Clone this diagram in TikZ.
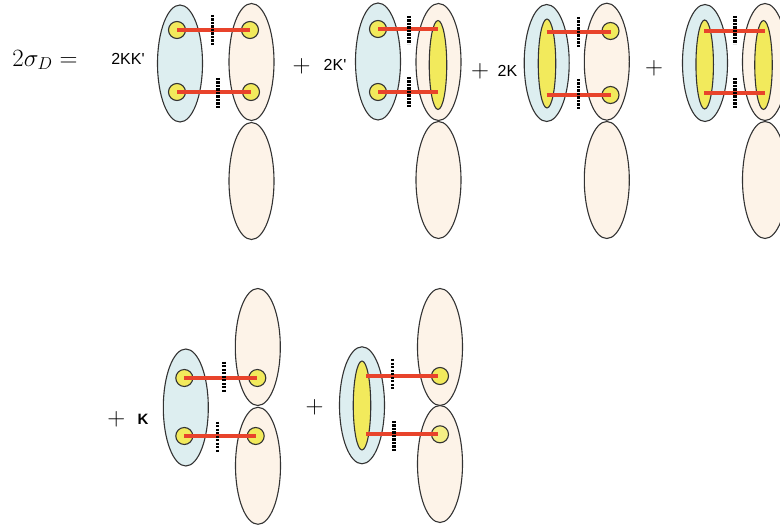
\documentclass[tikz,border=0pt]{standalone}
\usepackage{fontspec}
\newfontfamily\lab{Liberation Sans}
\usetikzlibrary{shapes.geometric}
\definecolor{bluef}{HTML}{DDEEF0}
\definecolor{orf}{HTML}{FDF3E8}
\definecolor{yelf}{HTML}{F2EA5C}
\definecolor{redl}{HTML}{E8432B}
\definecolor{edge}{HTML}{333333}
\tikzset{
  big/.style={ellipse,draw=edge,line width=1.1pt,minimum width=45pt,minimum height=117pt,inner sep=0pt},
  blueell/.style={big,fill=bluef},
  orell/.style={big,fill=orf},
  yell/.style={ellipse,draw=edge,line width=1.1pt,fill=yelf,minimum width=17.5pt,minimum height=89pt,inner sep=0pt},
  dot/.style={circle,draw=edge,line width=1.1pt,fill=yelf,minimum size=17pt,inner sep=0pt},
  bond/.style={redl,line width=3.6pt},
  cut/.style={black,line width=3.4pt,dash pattern=on 2.2pt off 1.3pt},
  plus/.style={inner sep=0pt,font=\fontsize{32}{34}\selectfont},
  coef/.style={inner sep=0pt,font=\lab\fontsize{16}{18}\selectfont},
}
\begin{document}
\begin{tikzpicture}[x=1pt,y=-1pt]
\useasboundingbox (0,0) rectangle (780,529);
% ---------- group 1
\node[inner sep=0pt,font=\fontsize{25}{27}\selectfont] (eq) at (45,60) {$2\sigma_D =$};
\node[coef] (k1) at (128,59) {2KK'};
\node[blueell] (b1) at (180,63.5) {};
\node[orell] (o1a) at (251.5,62) {};
\node[orell] (o1b) at (251.5,181) {};
\node[dot] (c1a) at (177,30) {};
\node[dot] (c1b) at (177,92) {};
\node[dot] (c1c) at (250,30) {};
\node[dot] (c1d) at (251,92) {};
\draw[bond] (c1a.center) -- (c1c.center);
\draw[bond] (c1b.center) -- (c1d.center);
\coordinate (d1a) at (212.7,15); \coordinate (d1b) at (212.7,46);
\coordinate (d1c) at (218,78); \coordinate (d1d) at (218,109);
\draw[cut] (d1a) -- (d1b);
\draw[cut] (d1c) -- (d1d);
% ---------- group 2
\node[plus] (p1) at (301.5,66) {$+$};
\node[coef] (k2) at (335,64.5) {2K'};
\node[blueell] (b2) at (378,61.5) {};
\node[orell] (o2a) at (438.5,62) {};
\node[orell] (o2b) at (438.5,180) {};
\node[yell] (y2) at (438,65) {};
\node[dot] (c2a) at (378,29) {};
\node[dot] (c2b) at (378,92) {};
\coordinate (e2a) at (438,29); \coordinate (e2b) at (438,92);
\draw[bond] (c2a.center) -- (e2a);
\draw[bond] (c2b.center) -- (e2b);
\coordinate (d2a) at (409,16); \coordinate (d2b) at (409,44);
\coordinate (d2c) at (409,77); \coordinate (d2d) at (409,108);
\draw[cut] (d2a) -- (d2b);
\draw[cut] (d2c) -- (d2d);
% ---------- group 3
\node[plus] (p2) at (480,71.5) {$+$};
\node[coef] (k3) at (507.5,71) {2K};
\node[blueell] (b3) at (546.7,63) {};
\node[yell] (y3) at (547,63.5) {};
\node[orell] (o3a) at (606.8,61.7) {};
\node[orell] (o3b) at (606.8,180) {};
\node[dot] (c3a) at (610.5,31) {};
\node[dot] (c3b) at (610.5,95) {};
\coordinate (e3a) at (546.7,32); \coordinate (e3b) at (546.7,95);
\draw[bond] (e3a) -- (c3a.center |- e3a);
\draw[bond] (e3b) -- (c3b.center |- e3b);
\coordinate (d3a) at (578.3,17); \coordinate (d3b) at (578.3,47);
\coordinate (d3c) at (578.3,79); \coordinate (d3d) at (578.3,109);
\draw[cut] (d3a) -- (d3b);
\draw[cut] (d3c) -- (d3d);
% ---------- group 4
\node[plus] (p3) at (654,68) {$+$};
\node[blueell] (b4) at (705,63) {};
\node[yell] (y4) at (704.7,64.5) {};
\node[orell] (o4a) at (765,62) {};
\node[orell] (o4b) at (765,180) {};
\node[yell] (y4b) at (763.5,65) {};
\coordinate (e4a) at (704,31); \coordinate (e4b) at (704,93);
\coordinate (f4a) at (765,31); \coordinate (f4b) at (765,93);
\draw[bond] (e4a) -- (f4a);
\draw[bond] (e4b) -- (f4b);
\coordinate (d4a) at (735,16); \coordinate (d4b) at (735,44);
\coordinate (d4c) at (735,78); \coordinate (d4d) at (735,108);
\draw[cut] (d4a) -- (d4b);
\draw[cut] (d4c) -- (d4d);
% ---------- group 5
\node[plus] (p4) at (116.3,419) {$+$};
\node[coef,font=\lab\fontsize{15}{17}\selectfont\bfseries] (k5) at (143,419) {K};
\node[blueell] (b5) at (185.8,407.5) {};
\node[orell] (o5a) at (257.8,347) {};
\node[orell] (o5b) at (258,465.8) {};
\node[dot] (c5a) at (184.3,378) {};
\node[dot] (c5b) at (184.3,436) {};
\node[dot] (c5c) at (257.3,378) {};
\node[dot] (c5d) at (255.7,436) {};
\draw[bond] (c5a.center) -- (c5c.center);
\draw[bond] (c5b.center) -- (c5d.center);
\coordinate (d5a) at (224,361.7); \coordinate (d5b) at (224,392.7);
\coordinate (d5c) at (217.3,421.7); \coordinate (d5d) at (217.3,451.7);
\draw[cut] (d5a) -- (d5b);
\draw[cut] (d5c) -- (d5d);
% ---------- group 6
\node[plus] (p5) at (314.5,407) {$+$};
\node[blueell] (b6) at (362,405.3) {};
\node[yell] (y6) at (362,405.5) {};
\node[orell] (o6a) at (440,347) {};
\node[orell] (o6b) at (440,464) {};
\node[dot] (c6a) at (440,376) {};
\node[dot,fill=yelf!75!white] (c6b) at (440,434.3) {};
\coordinate (e6a) at (366,376); \coordinate (e6b) at (366,434.3);
\draw[bond] (e6a) -- (c6a.west |- e6a) -- ++(7,0);
\draw[bond] (e6b) -- (c6b.west |- e6b) -- ++(7,0);
\coordinate (d6a) at (392.7,359.3); \coordinate (d6b) at (392.7,389.3);
\coordinate (d6c) at (394,421); \coordinate (d6d) at (394,451.7);
\draw[cut] (d6a) -- (d6b);
\draw[cut] (d6c) -- (d6d);
\end{tikzpicture}
\end{document}
